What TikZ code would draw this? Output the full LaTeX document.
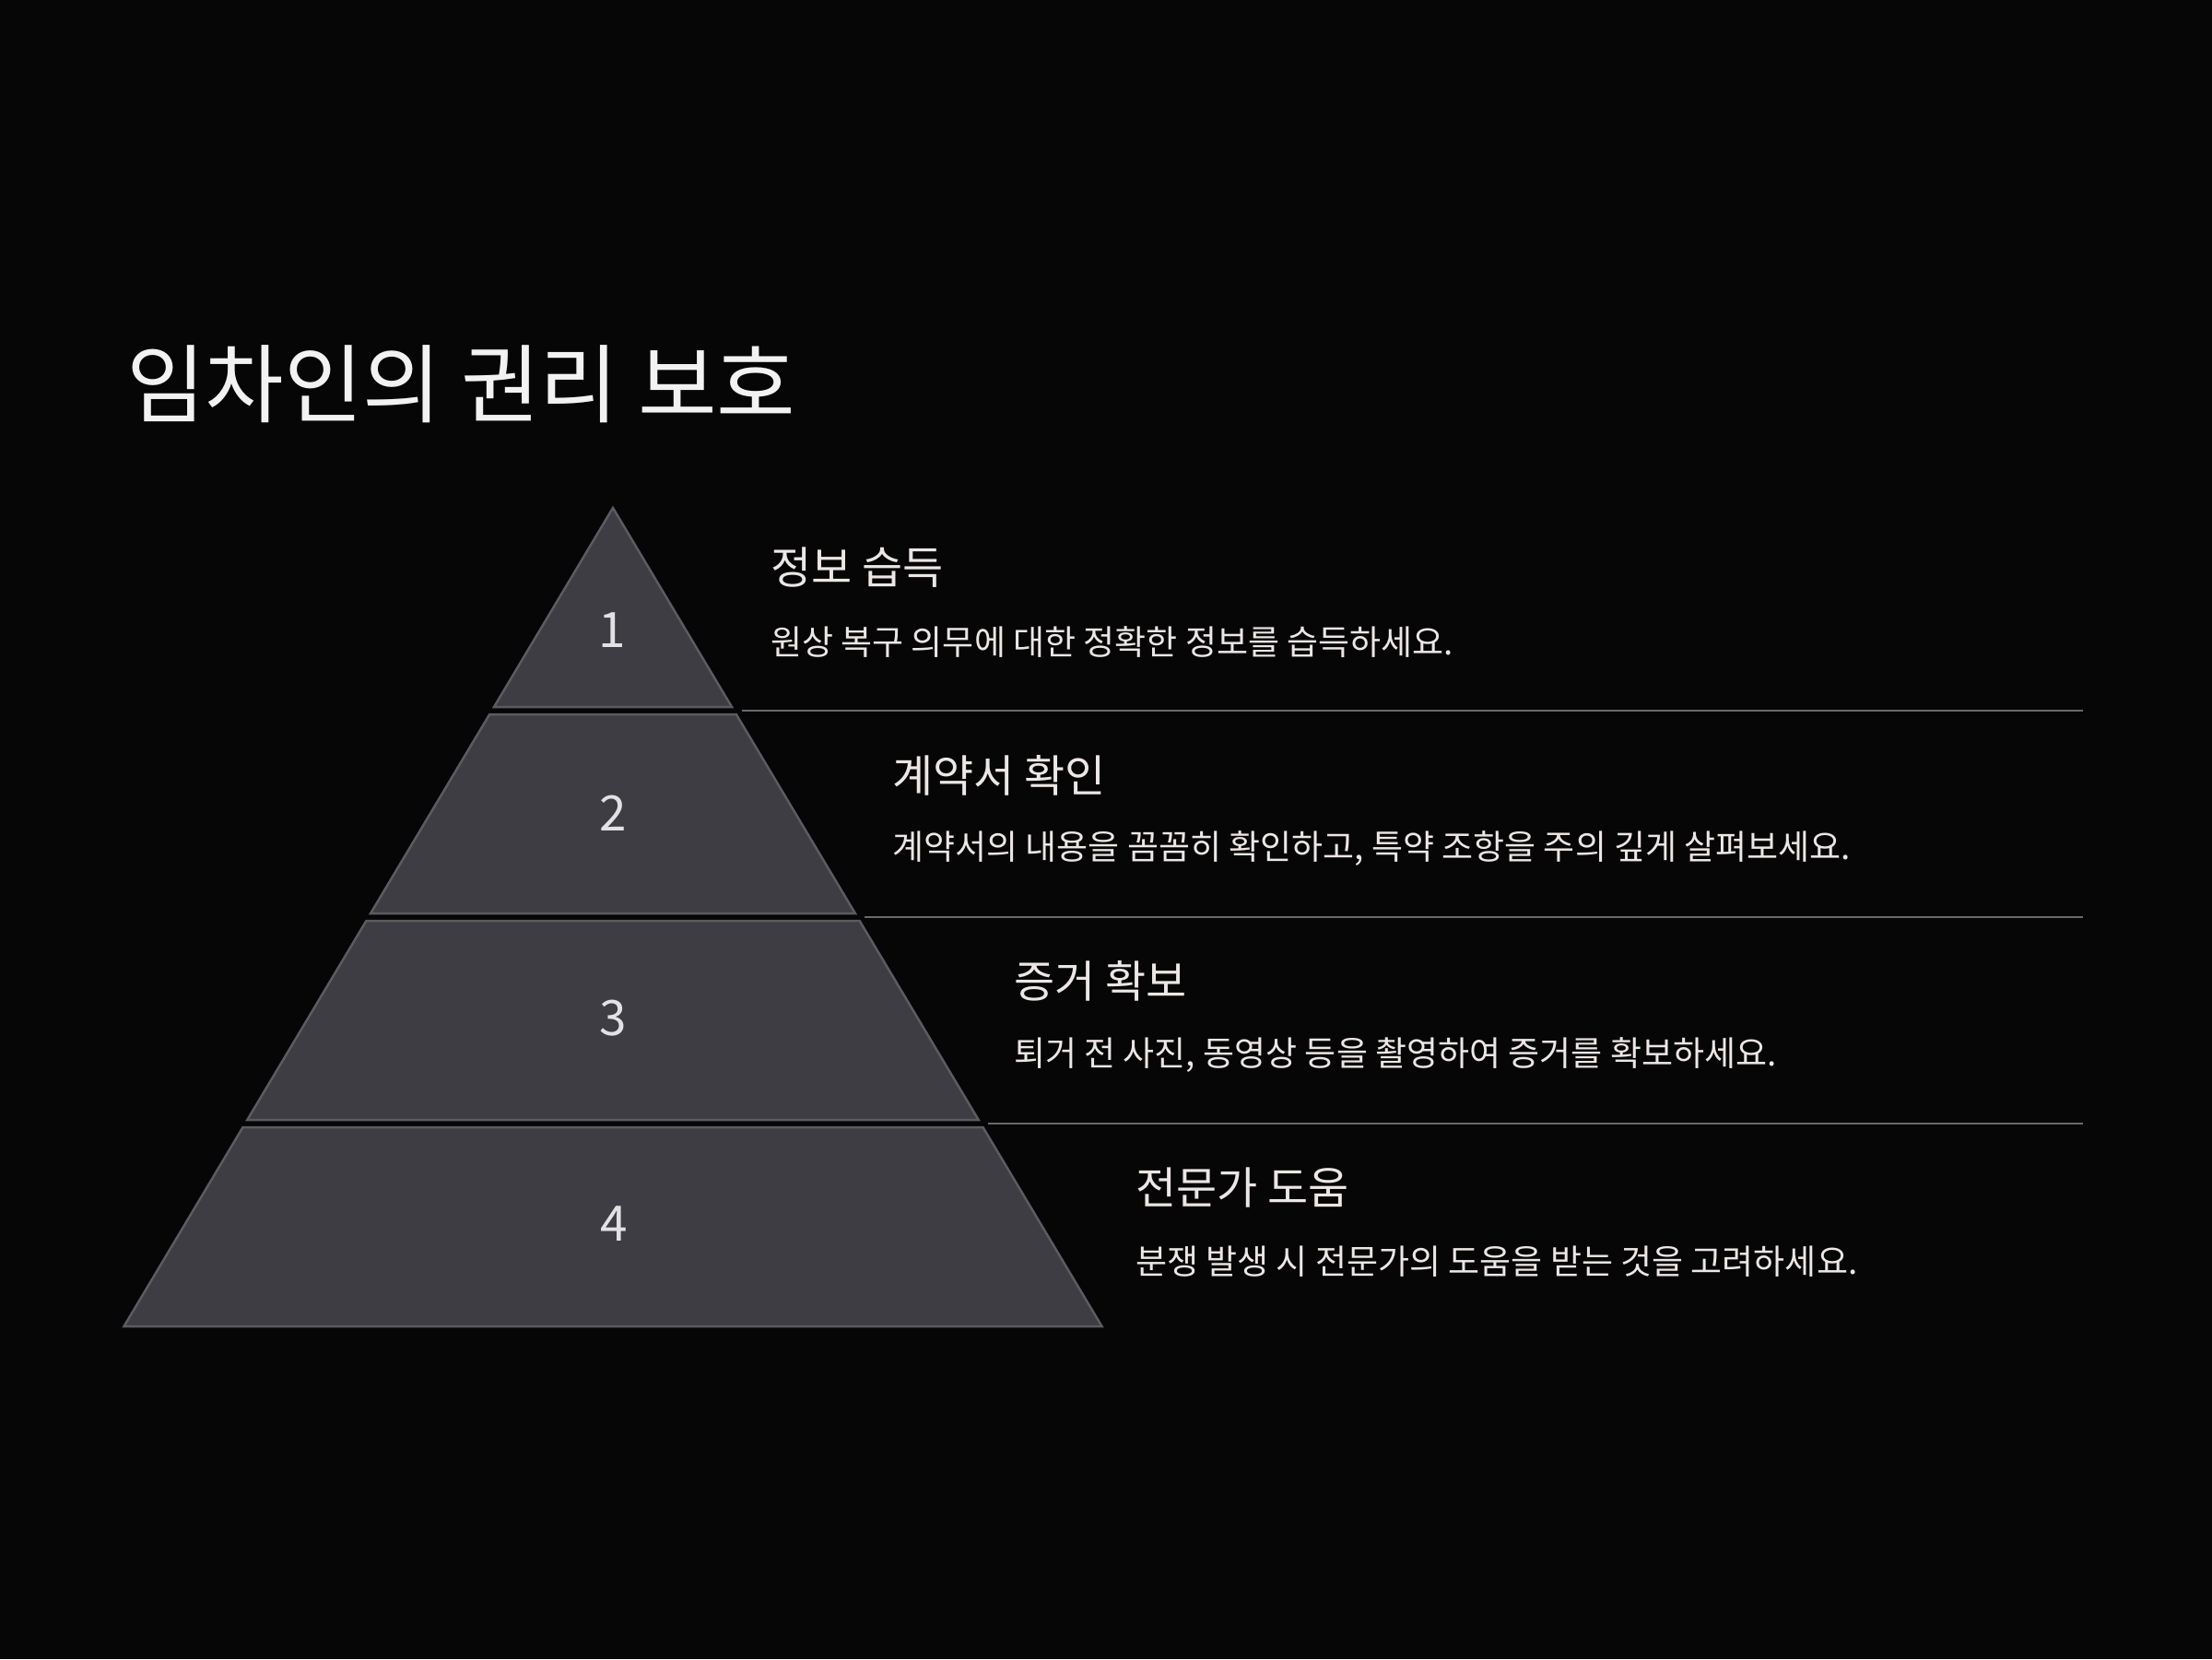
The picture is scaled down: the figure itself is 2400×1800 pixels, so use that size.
\documentclass[tikz,border=0pt]{standalone}
\usepackage{fontspec}
\newfontfamily\kr{Noto Sans CJK KR}
\definecolor{bg}{HTML}{060606}
\definecolor{tierfill}{HTML}{3E3D43}
\definecolor{tierline}{HTML}{5C5B61}
\definecolor{sepline}{HTML}{6A6A6C}
\definecolor{titlecol}{HTML}{F2F2F2}
\definecolor{txtcol}{HTML}{ECE6E6}
\definecolor{numcol}{HTML}{E2E2E4}
\tikzset{
  tier/.style={fill=tierfill, draw=tierline, line width=2.5pt, line join=miter},
  sep/.style={draw=sepline, line width=2pt},
  titletext/.style={anchor=west, inner sep=0pt, text=titlecol, font=\kr\fontsize{93}{100}\selectfont},
  headtext/.style={anchor=west, inner sep=0pt, text=txtcol, font=\kr\fontsize{48}{56}\selectfont},
  desctext/.style={anchor=west, inner sep=0pt, text=txtcol, font=\kr\fontsize{37}{44}\selectfont},
  numtext/.style={anchor=center, inner sep=0pt, text=numcol, font=\kr\fontsize{53}{60}\selectfont}
}
\begin{document}
\begin{tikzpicture}[x=1pt,y=-1pt]
\fill[bg] (0,0) rectangle (2400,1800);
\useasboundingbox (0,0) rectangle (2400,1800);

% title
\node[titletext] (title) at (137,417) {임차인의 권리 보호};

% pyramid tiers
\draw[tier] (665,551) -- (794,767) -- (536,767) -- cycle;
\draw[tier] (531.2,775) -- (798.8,775) -- (927.9,991) -- (402.1,991) -- cycle;
\draw[tier] (397.4,999) -- (932.6,999) -- (1061.7,1215) -- (268.3,1215) -- cycle;
\draw[tier] (263.5,1223) -- (1066.5,1223) -- (1195.5,1439) -- (134.5,1439) -- cycle;

% numbers
\node[numtext] (n1) at (664,684) {1};
\node[numtext] (n2) at (665,882) {2};
\node[numtext] (n3) at (665,1105) {3};
\node[numtext] (n4) at (666,1328) {4};

% separator lines
\coordinate (s1a) at (805,771);  \coordinate (s1b) at (2260,771);
\coordinate (s2a) at (938,995);  \coordinate (s2b) at (2260,995);
\coordinate (s3a) at (1072,1219); \coordinate (s3b) at (2260,1219);
\draw[sep] (s1a) -- (s1b);
\draw[sep] (s2a) -- (s2b);
\draw[sep] (s3a) -- (s3b);

% texts
\node[headtext] (h1) at (836,616) {정보 습득};
\node[desctext] (d1) at (836,697) {원상 복구 의무에 대한 정확한 정보를 습득하세요.};
\node[headtext] (h2) at (968,841) {계약서 확인};
\node[desctext] (d2) at (968,921) {계약서의 내용을 꼼꼼히 확인하고, 특약 조항을 주의 깊게 살펴보세요.};
\node[headtext] (h3) at (1100,1064) {증거 확보};
\node[desctext] (d3) at (1100,1145) {퇴거 전 사진, 동영상 등을 촬영하여 증거를 확보하세요.};
\node[headtext] (h4) at (1232,1288) {전문가 도움};
\node[desctext] (d4) at (1232,1369) {분쟁 발생 시 전문가의 도움을 받는 것을 고려하세요.};
\end{tikzpicture}
\end{document}
